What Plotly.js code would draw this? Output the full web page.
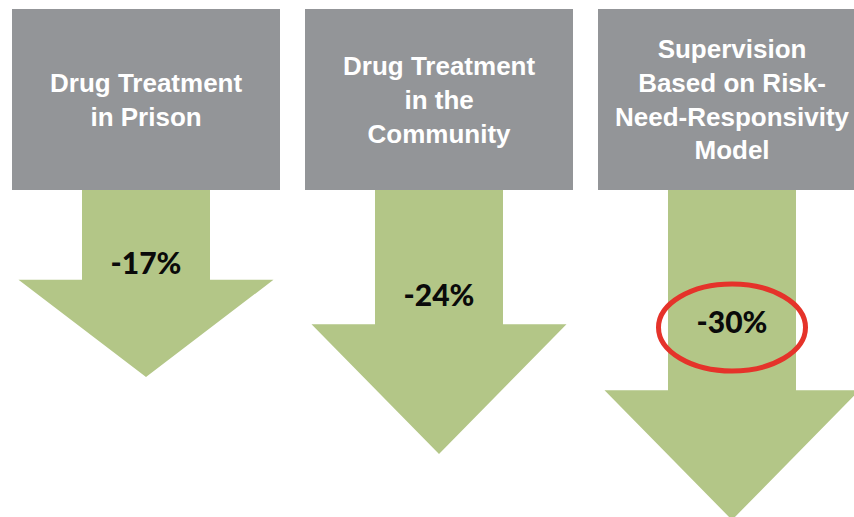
<!DOCTYPE html>
<html><head><meta charset="utf-8">
<script src="https://cdn.plot.ly/plotly-3.0.1.min.js"></script>
<style>html,body{margin:0;padding:0;background:#fff;overflow:hidden;}#chart{width:854px;height:517px;}</style>
</head><body><div id="chart"></div>
<script>
// ---- data ----
const categories = [
  "Drug Treatment<br>in Prison",
  "Drug Treatment<br>in the<br>Community",
  "Supervision<br>Based on Risk-<br>Need-Responsivity<br>Model"
];
const values = [-17, -24, -30];
const valueLabels = ["-17%", "-24%", "-30%"];

// ---- style ----
const GRAY = "#939598", GREEN = "#b3c687", RED = "#e5332a";
const W = 854, H = 517;
const PX_X = 293, PX_Y = 11.0;     // pixels per axis unit
const ZERO_PX = 190;               // pixel row of value 0 (box bottom)
const X0 = -146 / PX_X;
const BOX_TOP = (ZERO_PX - 9) / PX_Y;
const BOX_HALF = 134 / PX_X;
const SHAFT_HALF = 64 / PX_X;
const HEAD_HALF = 127.5 / PX_X;
const HEAD_MAX = 11.8, HEAD_FRAC = 0.52, LABEL_FRAC = 0.41;
const ELL_RX = 73.5 / PX_X, ELL_RY = 43.5 / PX_Y;

const idx = values.map((_, i) => i);
const traces = [];
const shapes = [];
const annotations = [];

idx.forEach(i => {
  const L = Math.abs(values[i]);
  const head = Math.min(HEAD_FRAC * L, HEAD_MAX);
  const yh = values[i] + head;
  traces.push({
    type: "scatter", mode: "lines", fill: "toself",
    fillcolor: GREEN, line: {width: 0, color: GREEN},
    hoverinfo: "skip",
    x: [i - SHAFT_HALF, i + SHAFT_HALF, i + SHAFT_HALF, i + HEAD_HALF, i, i - HEAD_HALF, i - SHAFT_HALF, i - SHAFT_HALF],
    y: [0, 0, yh, yh, values[i], yh, yh, 0]
  });
  shapes.push({
    type: "rect", xref: "x", yref: "y",
    x0: i - BOX_HALF, x1: i + BOX_HALF, y0: 0, y1: BOX_TOP,
    fillcolor: GRAY, line: {width: 0}, layer: "below"
  });
  annotations.push({
    x: i, y: BOX_TOP / 2, xref: "x", yref: "y",
    text: "<b>" + categories[i] + "</b>", showarrow: false,
    align: "center", xanchor: "center", yanchor: "middle",
    font: {family: "Liberation Sans, Arial, sans-serif", size: 26, color: "#ffffff"}
  });
});

traces.push({
  type: "scatter", mode: "text",
  x: idx, y: values.map(v => v * LABEL_FRAC),
  text: valueLabels, textposition: "middle center",
  textfont: {family: "Lato, sans-serif", size: 30, color: "#0a0a0a", weight: 900},
  hoverinfo: "skip", cliponaxis: false
});

// highlight the strongest reduction
const hi = values.indexOf(Math.min(...values));
const cy = values[hi] * LABEL_FRAC - 0.2;
shapes.push({
  type: "circle", xref: "x", yref: "y",
  x0: hi - ELL_RX, x1: hi + ELL_RX, y0: cy - ELL_RY, y1: cy + ELL_RY,
  line: {color: RED, width: 5}, layer: "above"
});

const layout = {
  width: W, height: H,
  margin: {l: 0, r: 0, t: 0, b: 0, pad: 0},
  paper_bgcolor: "#ffffff", plot_bgcolor: "#ffffff",
  showlegend: false,
  xaxis: {range: [X0, X0 + W / PX_X], visible: false, fixedrange: true},
  yaxis: {range: [-(H - ZERO_PX) / PX_Y, ZERO_PX / PX_Y], visible: false, fixedrange: true},
  shapes: shapes,
  annotations: annotations
};

Plotly.newPlot("chart", traces, layout, {displayModeBar: false, staticPlot: true});
</script>
</body></html>
